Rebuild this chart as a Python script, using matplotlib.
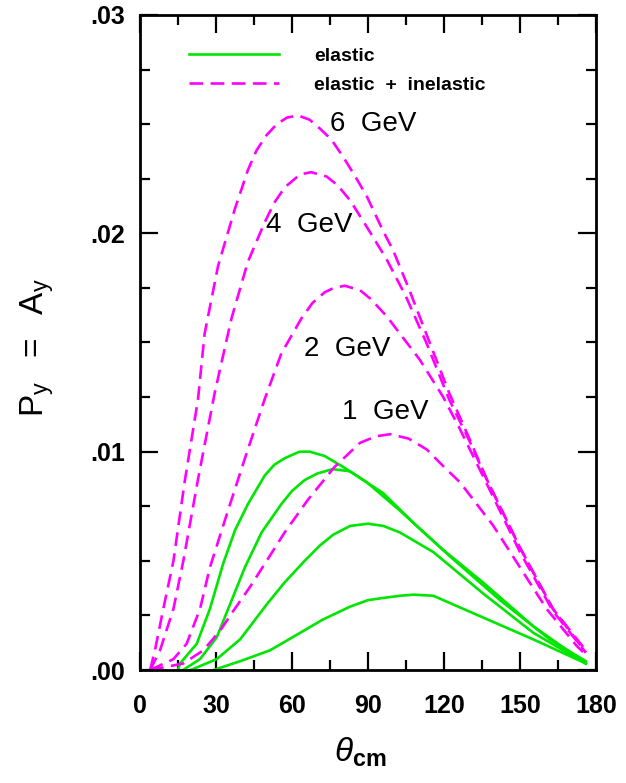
import matplotlib
matplotlib.use("Agg")
import matplotlib.pyplot as plt
from matplotlib.ticker import MultipleLocator, FuncFormatter

plt.rcParams['font.family'] = ['Liberation Sans', 'DejaVu Sans']
plt.rcParams['mathtext.fontset'] = 'custom'
plt.rcParams['mathtext.rm'] = 'Liberation Sans'
plt.rcParams['mathtext.it'] = 'Liberation Sans:italic'
plt.rcParams['mathtext.bf'] = 'Liberation Sans:bold'

GREEN = '#00e600'
MAGENTA = '#ff00ff'

# elastic + inelastic (dashed)
th_6 = [4, 5.9, 9.2, 13.2, 17.6, 22.9, 25.5, 30.8, 37.4, 42.6, 46, 50, 54, 58, 62.4, 67, 71, 75.5, 80.2, 85, 89.5, 96, 100, 106, 113, 122, 130, 137, 150, 163, 176]
py_6 = [0.0, 0.0009, 0.0028, 0.0050, 0.0086, 0.0124, 0.0154, 0.0185, 0.0211, 0.0229, 0.0238, 0.0245, 0.0250, 0.0253, 0.0254, 0.0252, 0.0248, 0.0243, 0.0235, 0.0226, 0.0217, 0.0201, 0.0192, 0.0175, 0.0154, 0.0127, 0.0106, 0.0087, 0.0056, 0.0028, 0.0008]

th_4 = [4, 7.9, 13.2, 17.1, 23, 29.5, 36.1, 42.6, 49.2, 53, 57.1, 63.2, 67.6, 73.7, 78, 83, 89.5, 97.4, 105, 113, 122, 130, 137, 150, 163, 176]
py_4 = [0.0, 0.0009, 0.0028, 0.0050, 0.0088, 0.0127, 0.0161, 0.0187, 0.0205, 0.0214, 0.0221, 0.0227, 0.0228, 0.0226, 0.0222, 0.0215, 0.0203, 0.0188, 0.0171, 0.0150, 0.0124, 0.0105, 0.0087, 0.0056, 0.0028, 0.0009]

th_2 = [4, 13.2, 18.4, 23.7, 27.6, 35, 42, 49.2, 55.8, 63.7, 68, 72.9, 76.5, 80.8, 86.8, 91, 97.4, 110.5, 119.7, 126, 137, 150, 163, 176]
py_2 = [0.0, 0.0005, 0.0012, 0.0028, 0.0047, 0.0074, 0.0099, 0.0124, 0.0145, 0.0161, 0.0168, 0.0173, 0.0175, 0.0176, 0.0174, 0.0170, 0.0162, 0.0142, 0.0125, 0.0111, 0.0085, 0.0054, 0.0027, 0.0008]

th_1 = [4, 17.1, 25, 31.6, 36.8, 43.4, 50, 57.1, 66.3, 76.8, 86.8, 93, 98.7, 106, 113.2, 120, 126.3, 139.5, 150, 160.5, 172.4, 176]
py_1 = [0.0, 0.0003, 0.0009, 0.0018, 0.0027, 0.0038, 0.0050, 0.0063, 0.0078, 0.0093, 0.0104, 0.0107, 0.0108, 0.0106, 0.0101, 0.0093, 0.0086, 0.0066, 0.0047, 0.0028, 0.0011, 0.0007]

# elastic only (solid)
th_ea = [15, 15.8, 22.4, 27.6, 32.9, 37.5, 42.6, 49.2, 53, 57.1, 63, 67, 72.9, 80.2, 89.5, 102.6, 119.7, 135.5, 155.3, 176]
py_ea = [0.0, 0.0003, 0.0012, 0.0028, 0.0049, 0.0064, 0.0076, 0.0089, 0.0094, 0.0097, 0.0100, 0.0100, 0.0098, 0.0093, 0.0086, 0.0073, 0.0055, 0.0040, 0.0020, 0.0003]

th_eb = [17, 23.7, 30.3, 35.5, 41.4, 48, 55.8, 60, 65, 70, 76, 82.9, 96, 109.2, 122.4, 142.1, 161.8, 176]
py_eb = [0.0, 0.0005, 0.0015, 0.0030, 0.0047, 0.0063, 0.0076, 0.0082, 0.0087, 0.0090, 0.0092, 0.0091, 0.0081, 0.0066, 0.0052, 0.0032, 0.0014, 0.0004]

th_ec = [20, 30.3, 39.5, 50, 57, 65, 71, 76.3, 83, 90, 96, 102.6, 115.8, 135.5, 155.3, 176]
py_ec = [0.0, 0.0005, 0.0014, 0.0030, 0.0040, 0.0050, 0.0057, 0.0062, 0.0066, 0.0067, 0.0066, 0.0063, 0.0054, 0.0035, 0.0017, 0.0003]

th_ed = [29, 39.5, 51.3, 63.2, 72, 82.9, 90, 96, 102.6, 108, 115.8, 135.5, 155.3, 176]
py_ed = [0.0, 0.0004, 0.0009, 0.0017, 0.0023, 0.0029, 0.0032, 0.0033, 0.0034, 0.00345, 0.0034, 0.0024, 0.0014, 0.0003]

labels = ['6  GeV', '4  GeV', '2  GeV', '1  GeV']
label_pos = [(92, 0.0250), (67, 0.0204), (81.7, 0.0147), (96.7, 0.0118)]

fig = plt.figure(figsize=(6.26, 7.83), dpi=100)
ax = fig.add_axes([140/626, 113/783, 456/626, 655/783])

dash = (5.2, 2.8)
lw = 1.9
for i, (th, py) in enumerate([(th_ea, py_ea), (th_eb, py_eb), (th_ec, py_ec), (th_ed, py_ed)]):
    ax.plot(th, py, color=GREEN, lw=lw, label='elastic' if i == 0 else None)
for i, (th, py) in enumerate([(th_6, py_6), (th_4, py_4), (th_2, py_2), (th_1, py_1)]):
    ax.plot(th, py, color=MAGENTA, lw=lw, dashes=dash,
            label='elastic  +  inelastic' if i == 0 else None)

for txt, (x, y) in zip(labels, label_pos):
    ax.text(x, y, txt, fontsize=20, ha='center', va='center')

ax.set_xlim(0, 180)
ax.set_ylim(0, 0.03)
ax.xaxis.set_major_locator(MultipleLocator(30))
ax.xaxis.set_minor_locator(MultipleLocator(15))
ax.yaxis.set_major_locator(MultipleLocator(0.01))
ax.yaxis.set_minor_locator(MultipleLocator(0.0025))
ax.yaxis.set_major_formatter(FuncFormatter(lambda v, p: f'{v:.2f}'.lstrip('0')))
ax.tick_params(which='both', direction='in', top=True, right=True, width=1.6)
ax.tick_params(which='major', length=13)
ax.tick_params(which='minor', length=7)
ax.tick_params(axis='x', pad=17, labelsize=18)
ax.tick_params(axis='y', pad=11, labelsize=18)
for t in ax.get_xticklabels() + ax.get_yticklabels():
    t.set_fontweight('bold')
for s in ax.spines.values():
    s.set_linewidth(2)

leg = ax.legend(loc='upper left', bbox_to_anchor=(0.07, 0.978), frameon=False,
                handlelength=4.6, handletextpad=1.8, labelspacing=0.62,
                prop={'weight': 'bold', 'size': 14})

fig.text(37/626, 1 - 347/783, r'$\mathrm{P_y\ \ =\ \ A_y}$', rotation=90,
         fontsize=24, ha='center', va='center')
fig.text(360/626, 1 - 752/783, r'$\theta_{\mathbf{cm}}$', fontsize=24,
         ha='center', va='center')

fig.savefig('out.png', dpi=100)
